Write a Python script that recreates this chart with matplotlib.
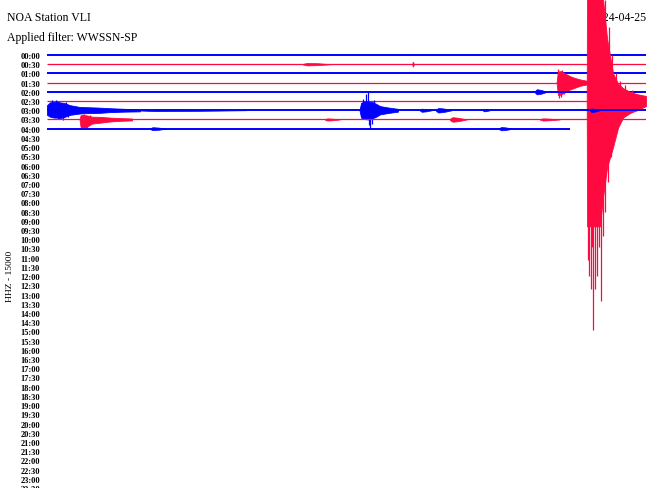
import matplotlib.pyplot as plt

# helicorder rows: one per half hour, x in minutes (0-30), amplitude in row units
ROW_LABELS = [f"{h:02d}:{m:02d}" for h in range(24) for m in (0, 30)]
ROW_END = [30, 30, 30, 30, 30, 30, 30, 30, 26.2]   # rows with data (00:00 .. 04:00)

BLUE = "#0000ff"
RED = "#ff0a40"

# big quake on the 02:30 row
QUAKE_ROW = 5
QUAKE_T = [27.03, 27.05, 27.19, 27.44, 27.69, 27.85, 28.05, 28.35, 28.60, 28.85, 29.20, 29.55, 30.0]
QUAKE_UP = [0, 16, 16, 16, 16, 11, 6.8, 3.0, 1.9, 1.4, 1.0, 0.75, 0.55]
QUAKE_DOWN = [0, 13.6, 13.6, 13.6, 13.6, 10.4, 7.2, 5.0, 2.9, 1.8, 1.3, 1.0, 0.55]
QUAKE_SPIKE_T = [27.09, 27.17, 27.24, 27.32, 27.37, 27.44, 27.54, 27.64, 27.74, 27.85, 27.95, 28.10, 28.25]
QUAKE_SPIKE_DOWN = [17.2, 19.0, 20.4, 15.8, 24.9, 20.4, 19.0, 15.8, 21.7, 14.7, 12.0, 8.8, 6.1]
QUAKE_SPIKE_UP_T = [27.95, 28.15, 28.30, 28.50, 28.70, 28.95, 29.30]
QUAKE_SPIKE_UP = [11, 8, 5, 3, 2.2, 1.7, 1.2]

# earlier event on 03:00 row (starts at left edge)
EV1_T = [0, 0.15, 0.35, 0.50, 0.65, 0.85, 1.15, 1.65, 2.15, 2.65, 3.16, 3.91, 4.66]
EV1_UP = [0.55, 0.85, 0.9, 0.95, 0.85, 0.8, 0.55, 0.35, 0.32, 0.28, 0.22, 0.15, 0.12]
EV1_DOWN = [0.5, 0.7, 0.8, 0.8, 0.85, 0.75, 0.5, 0.35, 0.3, 0.28, 0.2, 0.15, 0.12]
EV1_SPIKE_T = [0.25, 0.45, 0.55, 0.65, 0.80, 0.95, 1.05]
EV1_SPIKE_AMP = [1.1, 1.15, -1.0, -1.0, -1.05, 0.9, -0.7]

# its continuation on 03:30 row
EV2_T = [1.63, 1.68, 1.80, 1.95, 2.10, 2.25, 2.65, 3.16, 3.66, 4.26]
EV2_UP = [0, 0.45, 0.5, 0.45, 0.4, 0.3, 0.28, 0.2, 0.15, 0.1]
EV2_DOWN = [0, 0.8, 0.9, 0.85, 0.65, 0.45, 0.35, 0.22, 0.15, 0.1]
EV2_SPIKE_T = [1.75, 1.85, 1.92, 2.02, 2.15]
EV2_SPIKE_AMP = [-1.05, 0.6, -1.0, -0.95, 0.5]

# local event on 03:00 row
EV3_T = [15.65, 15.73, 15.88, 16.08, 16.28, 16.48, 16.68, 17.08, 17.58]
EV3_UP = [0, 0.8, 0.95, 0.95, 0.9, 0.7, 0.45, 0.3, 0.15]
EV3_DOWN = [0, 0.8, 0.95, 1.0, 0.9, 0.7, 0.45, 0.3, 0.15]
EV3_SPIKE_T = [15.83, 15.98, 16.08, 16.13, 16.18, 16.28, 16.38]
EV3_SPIKE_AMP = [1.2, 1.75, 2.05, -1.6, -2.05, -1.5, 1.1]

# event on 01:30 row just before the quake
EV4_T = [25.52, 25.59, 25.74, 25.94, 26.19, 26.44, 26.69, 27.04]
EV4_UP = [0, 1.2, 1.25, 1.0, 0.7, 0.5, 0.35, 0.2]
EV4_DOWN = [0, 1.35, 1.3, 1.05, 0.75, 0.55, 0.35, 0.2]
EV4_SPIKE_T = [25.59, 25.64, 25.72, 25.80, 25.90]
EV4_SPIKE_AMP = [1.5, -1.7, -1.55, 1.4, -1.2]

EVENTS = [(6, EV1_T, EV1_UP, EV1_DOWN), (7, EV2_T, EV2_UP, EV2_DOWN),
          (6, EV3_T, EV3_UP, EV3_DOWN), (3, EV4_T, EV4_UP, EV4_DOWN)]
SPIKES = [(6, EV1_SPIKE_T, EV1_SPIKE_AMP), (7, EV2_SPIKE_T, EV2_SPIKE_AMP),
          (6, EV3_SPIKE_T, EV3_SPIKE_AMP), (3, EV4_SPIKE_T, EV4_SPIKE_AMP)]

# small bursts: row, start, end, amplitude
BURST_ROW = [1, 1, 4, 6, 6, 6, 6, 6, 7, 7, 7, 8, 8]
BURST_START = [12.82, 18.30, 24.44, 4.66, 18.68, 19.48, 21.83, 27.19, 13.92, 20.18, 24.69, 5.16, 22.64]
BURST_END = [14.27, 18.38, 25.04, 10.0, 19.28, 20.28, 22.19, 27.69, 14.67, 21.03, 25.69, 6.01, 23.34]
BURST_AMP = [0.14, 0.27, 0.28, 0.1, 0.17, 0.25, 0.12, 0.2, 0.12, 0.25, 0.12, 0.16, 0.18]

plt.rcParams["font.family"] = ["Liberation Serif", "DejaVu Serif"]

ROW_PX = 9.27
TOP_PX = 56.3

fig = plt.figure(figsize=(6.6, 4.89), dpi=100)
ax = fig.add_axes([47 / 660, 0, 599 / 660, 1])
ax.patch.set_visible(False)
ax.set_xlim(0, 30)
ax.set_ylim((489 - TOP_PX) / ROW_PX, -TOP_PX / ROW_PX)

for r, end in enumerate(ROW_END):
    col = BLUE if r % 2 == 0 else RED
    lw = 1.4 if r % 2 == 0 else 0.9
    z = 2 + r
    ax.plot([0, end], [r, r], color=col, lw=lw, zorder=z, solid_capstyle="butt")
    for br, s, e, a in zip(BURST_ROW, BURST_START, BURST_END, BURST_AMP):
        if br == r:
            w = e - s
            bx = [s, s + 0.15 * w, s + 0.5 * w, e]
            ba = [0.3 * a, a, 0.75 * a, 0]
            ax.fill_between(bx, [r - v for v in ba], [r + v for v in ba], color=col, lw=0.5, zorder=z)
    for er, t, up, dn in EVENTS:
        if er == r:
            ax.fill_between(t, [r - u for u in up], [r + d for d in dn], color=col, lw=0.6, zorder=z)
    for sr, t, amp in SPIKES:
        if sr == r:
            ax.vlines(t, r, [r - a for a in amp], color=col, lw=0.9, zorder=z)
    if r == QUAKE_ROW:
        ax.fill_between(QUAKE_T, [r - u for u in QUAKE_UP], [r + d for d in QUAKE_DOWN],
                        color=col, lw=0.6, zorder=z)
        ax.vlines(QUAKE_SPIKE_T, r, [r + d for d in QUAKE_SPIKE_DOWN], color=col, lw=0.9, zorder=z)
        ax.vlines(QUAKE_SPIKE_UP_T, r, [r - u for u in QUAKE_SPIKE_UP], color=col, lw=0.9, zorder=z)

ax.set_yticks(range(len(ROW_LABELS)))
ax.set_yticklabels(ROW_LABELS, fontsize=6, fontweight="bold")
ax.tick_params(axis="y", length=0, pad=5)
ax.set_xticks([])
for s in ax.spines.values():
    s.set_visible(False)

fig.text(7 / 660, 1 - 18 / 489, "NOA Station VLI", fontsize=8.5, va="center", ha="left", zorder=-1)
fig.text(7 / 660, 1 - 38 / 489, "Applied filter: WWSSN-SP", fontsize=8.5, va="center", ha="left", zorder=-1)
fig.text(647 / 660, 1 - 18 / 489, "2024-04-25", fontsize=8.5, va="center", ha="right", zorder=-1)
fig.text(10 / 660, 1 - 276 / 489, "HHZ - 15000", fontsize=6.8, rotation=90, va="center", ha="center")

fig.savefig("out.png", dpi=100, facecolor="white")
